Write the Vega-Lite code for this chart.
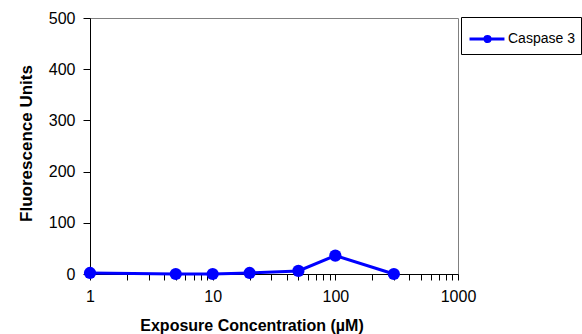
{
  "$schema": "https://vega.github.io/schema/vega-lite/v6.json",
  "width": 368,
  "height": 256,
  "autosize": {"type": "none"},
  "padding": {"left": 90, "top": 18, "right": 124, "bottom": 60},
  "background": "white",
  "config": {
    "font": "Liberation Sans",
    "view": {"stroke": "#808080", "strokeWidth": 1}
  },
  "data": {
    "values": [
      {"conc": 1, "value": 2, "series": "Caspase 3"},
      {"conc": 5, "value": 0, "series": "Caspase 3"},
      {"conc": 10, "value": 0, "series": "Caspase 3"},
      {"conc": 20, "value": 2, "series": "Caspase 3"},
      {"conc": 50, "value": 6, "series": "Caspase 3"},
      {"conc": 100, "value": 36, "series": "Caspase 3"},
      {"conc": 300, "value": 0, "series": "Caspase 3"}
    ]
  },
  "encoding": {
    "x": {
      "field": "conc",
      "type": "quantitative",
      "scale": {"type": "log", "domain": [1, 1000], "nice": false},
      "axis": {
        "title": "Exposure Concentration (µM)",
        "titleFontSize": 16,
        "titleFontWeight": "bold",
        "titleColor": "black",
        "titleX": 161.5,
        "titleY": 56,
        "titleBaseline": "alphabetic",
        "values": [1,2,3,4,5,6,7,8,9,10,20,30,40,50,60,70,80,90,100,200,300,400,500,600,700,800,900,1000],
        "labelExpr": "indexof([1,10,100,1000], datum.value) >= 0 ? datum.value : ''",
        "labelFontSize": 16,
        "labelColor": "black",
        "labelPadding": 8,
        "labelFlush": false,
        "labelOverlap": false,
        "domainColor": "black",
        "domainWidth": 1,
        "tickColor": "black",
        "tickSize": 6,
        "grid": false
      }
    },
    "y": {
      "field": "value",
      "type": "quantitative",
      "scale": {"domain": [0, 500], "nice": false},
      "axis": {
        "title": "Fluorescence Units",
        "titleFontSize": 17,
        "titleFontWeight": "bold",
        "titleColor": "black",
        "titleX": -59,
        "titleY": 125,
        "titleBaseline": "alphabetic",
        "values": [0, 100, 200, 300, 400, 500],
        "labelFontSize": 16,
        "labelColor": "black",
        "labelPadding": 8,
        "domainColor": "black",
        "tickColor": "black",
        "tickSize": 7,
        "grid": false
      }
    },
    "color": {
      "field": "series",
      "type": "nominal",
      "scale": {"range": ["#0000FF"]},
      "legend": {
        "title": null,
        "orient": "none",
        "legendX": 371,
        "legendY": -1,
        "strokeColor": "black",
        "padding": 6,
        "labelFontSize": 14,
        "labelColor": "black",
        "labelOffset": 9,
        "symbolType": "M-0.93,0L1.48,0M0.13,0A0.18,0.18,0,1,1,0.49,0A0.18,0.18,0,1,1,0.13,0Z",
        "symbolSize": 841,
        "symbolStrokeWidth": 3,
        "symbolFillColor": "#0000FF",
        "symbolStrokeColor": "#0000FF"
      }
    }
  },
  "layer": [
    {"mark": {"type": "line", "strokeWidth": 3}},
    {"mark": {"type": "circle", "size": 150, "opacity": 1}}
  ]
}
